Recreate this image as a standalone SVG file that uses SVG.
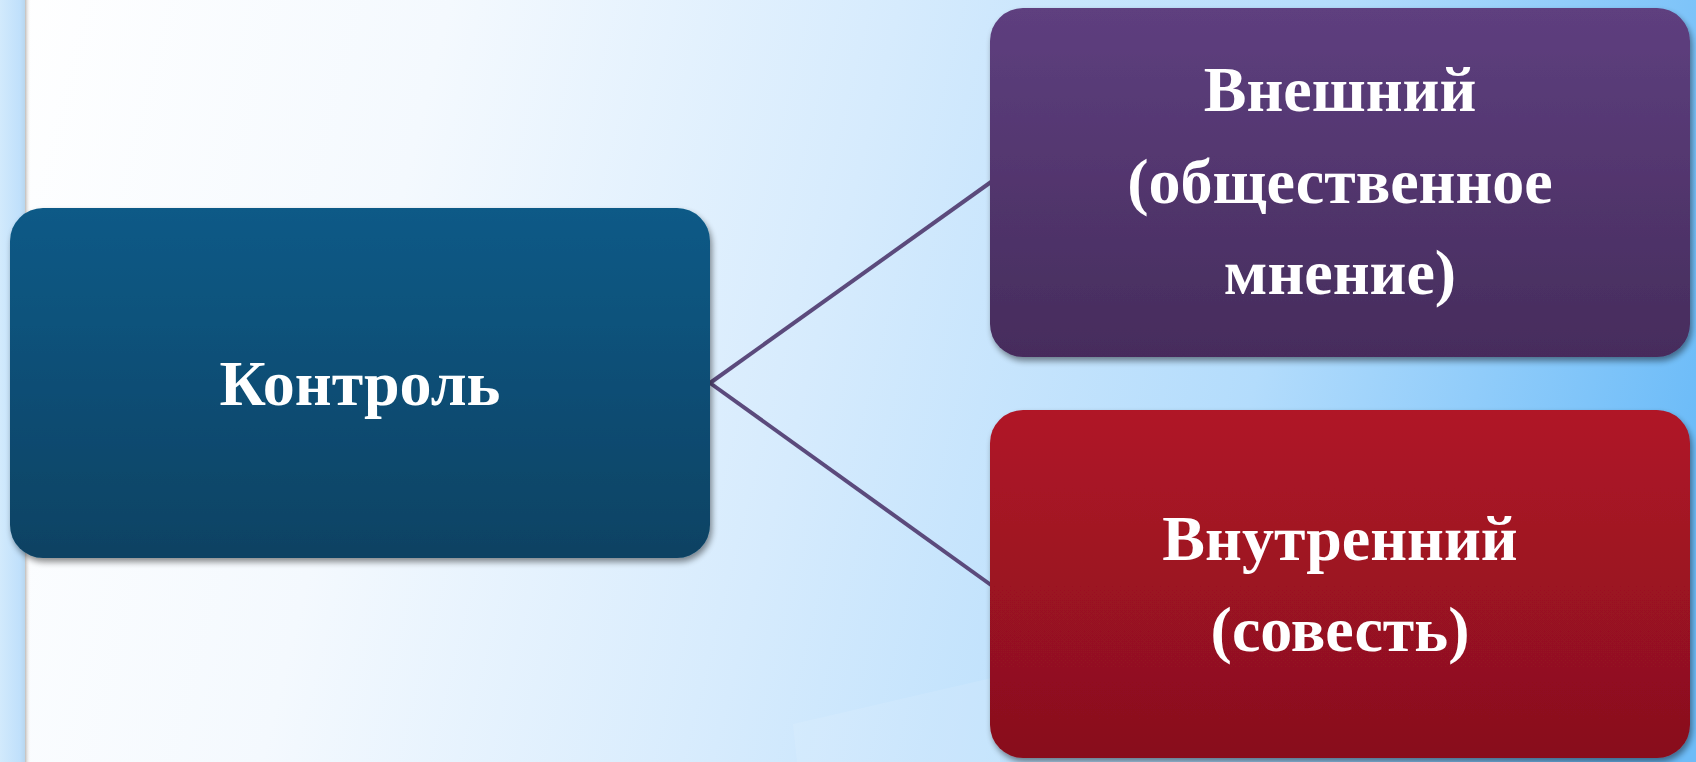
<svg xmlns="http://www.w3.org/2000/svg" width="1696" height="762" viewBox="0 0 1696 762">
  <defs>
    <linearGradient id="bg" x1="0" y1="0" x2="1696" y2="420" gradientUnits="userSpaceOnUse">
      <stop offset="0" stop-color="#ffffff"/>
      <stop offset="0.25" stop-color="#f4f9fe"/>
      <stop offset="0.5" stop-color="#d6ebfd"/>
      <stop offset="0.75" stop-color="#b3dcfc"/>
      <stop offset="1" stop-color="#6dbcf8"/>
    </linearGradient>
    <linearGradient id="strip" x1="0" y1="0" x2="1" y2="0">
      <stop offset="0" stop-color="#d2eafc"/>
      <stop offset="0.8" stop-color="#c0e0fb"/>
      <stop offset="1" stop-color="#b8d6ee"/>
    </linearGradient>
    <linearGradient id="stripShadow" x1="0" y1="0" x2="1" y2="0">
      <stop offset="0" stop-color="#b9b4b0" stop-opacity="0.9"/>
      <stop offset="1" stop-color="#ffffff" stop-opacity="0"/>
    </linearGradient>
    <linearGradient id="gBlue" x1="0" y1="0" x2="0" y2="1">
      <stop offset="0" stop-color="#0b5a87"/>
      <stop offset="1" stop-color="#094263"/>
    </linearGradient>
    <linearGradient id="gPurple" x1="0" y1="0" x2="0" y2="1">
      <stop offset="0" stop-color="#5e3f7f"/>
      <stop offset="1" stop-color="#462c5c"/>
    </linearGradient>
    <linearGradient id="gRed" x1="0" y1="0" x2="0" y2="1">
      <stop offset="0" stop-color="#b01427"/>
      <stop offset="1" stop-color="#88101e"/>
    </linearGradient>
    <filter id="shadow" x="-5%" y="-5%" width="112%" height="115%">
      <feGaussianBlur in="SourceAlpha" stdDeviation="3"/>
      <feOffset dx="2" dy="4" result="b"/>
      <feComponentTransfer><feFuncA type="linear" slope="0.45"/></feComponentTransfer>
      <feMerge><feMergeNode/><feMergeNode in="SourceGraphic"/></feMerge>
    </filter>
  </defs>
  <style>
    .node { filter: url(#shadow); }
    .label { font-family: "Liberation Serif", "Times New Roman", serif; font-weight: bold; font-size: 64px; fill: #ffffff; text-anchor: middle; }
    .conn { stroke: #5b4a7c; stroke-width: 4; fill: none; }
  </style>

  <!-- background -->
  <rect x="0" y="0" width="1696" height="762" fill="url(#bg)"/>
  <polygon points="793,724 1000,676 1000,762 797,762" fill="#ffffff" opacity="0.1"/>
  <rect x="0" y="0" width="25" height="762" fill="url(#strip)"/>
  <rect x="25" y="0" width="6" height="762" fill="url(#stripShadow)"/>

  <!-- connectors -->
  <g id="connectors">
    <line class="conn" x1="710" y1="383" x2="991" y2="182"/>
    <line class="conn" x1="710" y1="383" x2="991" y2="585"/>
  </g>

  <g id="node-control" class="node">
    <rect x="10" y="208" width="700" height="350" rx="33" fill="url(#gBlue)"/>
    <text class="label" x="360" y="405">Контроль</text>
  </g>

  <g id="node-external" class="node">
    <rect x="990" y="8" width="700" height="349" rx="33" fill="url(#gPurple)"/>
    <text class="label" x="1340" y="111">Внешний</text>
    <text class="label" x="1340" y="203">(общественное</text>
    <text class="label" x="1340" y="294">мнение)</text>
  </g>

  <g id="node-internal" class="node">
    <rect x="990" y="410" width="700" height="348" rx="33" fill="url(#gRed)"/>
    <text class="label" x="1340" y="560">Внутренний</text>
    <text class="label" x="1340" y="651">(совесть)</text>
  </g>
</svg>
